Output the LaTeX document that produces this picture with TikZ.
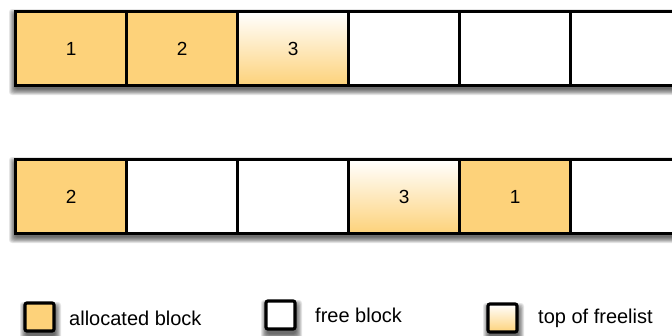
\documentclass[tikz,border=0pt]{standalone}
\usepackage{fontspec}
\setmainfont{Liberation Sans}
\definecolor{alloc}{HTML}{FDD27A}
\tikzset{
  cell/.style={draw=black,line width=3.2pt,minimum width=111pt,minimum height=74pt,inner sep=0pt,anchor=north west,font=\fontsize{19}{19}\selectfont},
  allocd/.style={cell,fill=alloc},
  freeb/.style={cell,fill=white},
  topfl/.style={cell,top color=white,bottom color=alloc},
  legbox/.style={draw=black,line width=3.2pt,rounded corners=2pt,minimum width=29pt,minimum height=28pt,inner sep=0pt},
  legtext/.style={anchor=west,font=\fontsize{20}{20}\selectfont,inner sep=0pt},
  shadowlayer/.style={fill=black,fill opacity=0.09,rounded corners=#1}
}
\newcommand{\softshadow}[4]{% x1 y1 x2 y2
  \foreach \k in {0,...,8}{
    \pgfmathsetmacro{\e}{6-0.75*\k}
    \fill[shadowlayer=3pt] (#1-\e+1,#2-\e+5) rectangle (#3+\e+1,#4+\e+5);
  }}
\begin{document}
\begin{tikzpicture}[x=1pt,y=-1pt]
\useasboundingbox (0,0) rectangle (672,335);
% shadows
\softshadow{14}{10}{681}{84}
\softshadow{14}{158}{681}{232}
% row 1
\node[allocd] (a1) at (14,10) {1};
\node[allocd] (a2) at (125,10) {2};
\node[topfl]  (a3) at (236,10) {3};
\node[freeb]  (a4) at (347,10) {};
\node[freeb]  (a5) at (458,10) {};
\node[freeb]  (a6) at (569,10) {};
% row 2
\node[allocd] (b1) at (14,158) {2};
\node[freeb]  (b2) at (125,158) {};
\node[freeb]  (b3) at (236,158) {};
\node[topfl]  (b4) at (347,158) {3};
\node[allocd] (b5) at (458,158) {1};
\node[freeb]  (b6) at (569,158) {};
% legend shadows
\softshadow{25}{303}{54}{331}
\softshadow{266}{301}{295}{329}
\softshadow{488}{304}{517}{332}
% legend
\node[legbox,fill=alloc] (l1) at (39.5,317) {};
\node[legtext] (t1) at (69,318) {allocated block};
\node[legbox,fill=white] (l2) at (280.5,315) {};
\node[legtext] (t2) at (315,315) {free block};
\node[legbox,top color=white,bottom color=alloc] (l3) at (502.5,318) {};
\node[legtext] (t3) at (538,318) {top of freelist};
\end{tikzpicture}
\end{document}
